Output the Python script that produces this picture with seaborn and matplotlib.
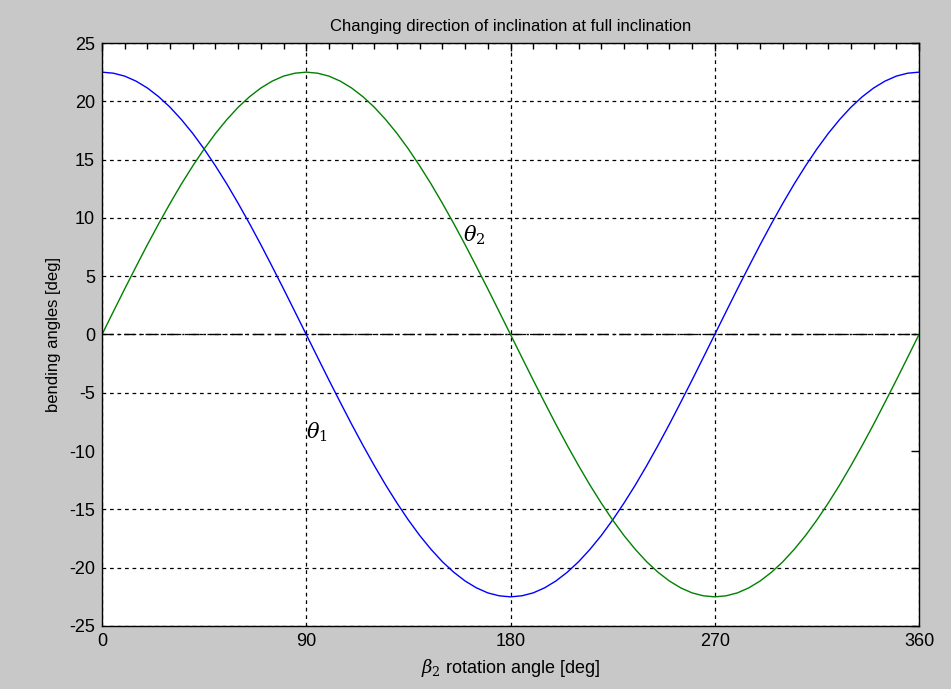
import numpy as np
import pandas as pd
import matplotlib
matplotlib.use("Agg")
import matplotlib.pyplot as plt
import seaborn as sns

# rotation angle beta_2 [deg], sampled every 5 degrees
beta2 = list(range(0, 361, 5))

# bending angle theta_1 [deg]
theta1 = [22.50, 22.41, 22.16, 21.73, 21.14, 20.39, 19.49, 18.43, 17.24, 15.91,
          14.46, 12.91, 11.25, 9.51, 7.70, 5.82, 3.91, 1.96, 0.00,
          -1.96, -3.91, -5.82, -7.70, -9.51, -11.25, -12.91, -14.46, -15.91,
          -17.24, -18.43, -19.49, -20.39, -21.14, -21.73, -22.16, -22.41, -22.50,
          -22.41, -22.16, -21.73, -21.14, -20.39, -19.49, -18.43, -17.24, -15.91,
          -14.46, -12.91, -11.25, -9.51, -7.70, -5.82, -3.91, -1.96, 0.00,
          1.96, 3.91, 5.82, 7.70, 9.51, 11.25, 12.91, 14.46, 15.91,
          17.24, 18.43, 19.49, 20.39, 21.14, 21.73, 22.16, 22.41, 22.50]

# bending angle theta_2 [deg]
theta2 = [0.00, 1.96, 3.91, 5.82, 7.70, 9.51, 11.25, 12.91, 14.46, 15.91,
          17.24, 18.43, 19.49, 20.39, 21.14, 21.73, 22.16, 22.41, 22.50,
          22.41, 22.16, 21.73, 21.14, 20.39, 19.49, 18.43, 17.24, 15.91,
          14.46, 12.91, 11.25, 9.51, 7.70, 5.82, 3.91, 1.96, 0.00,
          -1.96, -3.91, -5.82, -7.70, -9.51, -11.25, -12.91, -14.46, -15.91,
          -17.24, -18.43, -19.49, -20.39, -21.14, -21.73, -22.16, -22.41, -22.50,
          -22.41, -22.16, -21.73, -21.14, -20.39, -19.49, -18.43, -17.24, -15.91,
          -14.46, -12.91, -11.25, -9.51, -7.70, -5.82, -3.91, -1.96, 0.00]

x_ticks = [0, 90, 180, 270, 360]
y_ticks = list(range(-25, 26, 5))

sns.set_style("white")
plt.rcParams['font.family'] = ['Liberation Sans', 'DejaVu Sans']
plt.rcParams['mathtext.fontset'] = 'dejavuserif'
plt.rcParams['axes.unicode_minus'] = False
plt.rcParams['text.color'] = 'black'
plt.rcParams['axes.labelcolor'] = 'black'

df = pd.DataFrame({
    "beta2": beta2 * 2,
    "theta": theta1 + theta2,
    "series": ["theta1"] * len(beta2) + ["theta2"] * len(beta2),
})

fig = plt.figure(figsize=(9.51, 6.89), dpi=100, facecolor="#c8c8c8")
ax = fig.add_axes([102 / 951, 1 - 626 / 689, (919 - 102) / 951, (626 - 43) / 689])
ax.set_facecolor("white")

sns.lineplot(data=df, x="beta2", y="theta", hue="series",
             palette={"theta1": "#0000ff", "theta2": "#008000"},
             linewidth=1.0, ax=ax, legend=False, sort=False)

ax.axhline(0, color="black", linestyle=(0, (8, 3, 1.5, 3)), linewidth=1.0, zorder=1)

ax.set_xlim(0, 360)
ax.set_ylim(-25, 25)
ax.set_xticks(x_ticks)
ax.set_xticks(list(range(0, 361, 10)), minor=True)
ax.set_yticks(y_ticks)
ax.tick_params(axis="both", which="both", direction="in", top=True, right=True,
               labelsize=13, colors="black", pad=5)
ax.tick_params(which="major", length=6, width=1)
ax.tick_params(which="minor", length=4, width=1)
for s in ax.spines.values():
    s.set_color("black")
    s.set_linewidth(1.0)

ax.grid(True, which="major", color="black", linestyle=(0, (3, 3)), linewidth=0.9)
for t in ax.yaxis.get_major_ticks():
    if abs(t.get_loc()) < 1e-9:
        t.gridline.set_visible(False)

ax.set_title("Changing direction of inclination at full inclination",
             fontsize=12, pad=9, color="black")
ax.set_xlabel(r"$\beta_2$ rotation angle [deg]", fontsize=13, labelpad=5)
ax.set_ylabel("bending angles [deg]", fontsize=12, labelpad=6)

ax.text(94.5, -8.4, r"$\theta_1$", fontsize=15, ha="center", va="center")
ax.text(164, 8.5, r"$\theta_2$", fontsize=15, ha="center", va="center")

fig.savefig("out.png", dpi=100, facecolor=fig.get_facecolor())
